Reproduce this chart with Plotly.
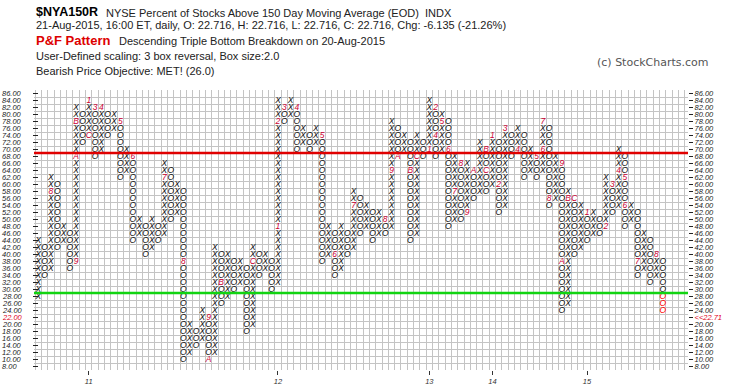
import plotly.graph_objects as go

# ---------------- data ----------------
col_kind = ("XOXOXOXOXO" "XOXOXOXOXO" "XOXOXOXOXO" "XOXOXOXOXO" "XOXOXOXOXO"
            "XOXOXOXOXO" "XOXOXOXOXO" "XOXOXOXOXO" "XOXOXOXOXO" "XOXOXOXOXO")

col_low = [28, 34, 36, 42, 44, 36, 38, 72, 74, 68,
           70, 74, 76, 62, 64, 44, 46, 40, 42, 44,
           46, 50, 52, 10, 12, 14, 16, 10, 12, 26,
           28, 30, 32, 18, 20, 34, 36, 30, 32, 78,
           80, 70, 72, 70, 72, 38, 40, 34, 36, 40,
           42, 46, 48, 44, 46, 46, 48, 68, 70, 44,
           46, 68, 70, 68, 70, 48, 50, 50, 52, 56,
           58, 58, 60, 52, 54, 68, 70, 62, 64, 62,
           64, 54, 56, 24, 26, 40, 42, 44, 46, 46,
           48, 52, 54, 48, 50, 34, 36, 32, 34, 24]

col_high = [44, 42, 62, 60, 48, 46, 82, 80, 84, 82,
            82, 80, 80, 78, 70, 68, 50, 48, 50, 48,
            66, 64, 60, 58, 20, 18, 24, 22, 42, 40,
            40, 38, 38, 36, 42, 40, 40, 38, 84, 82,
            84, 82, 76, 74, 76, 74, 48, 46, 48, 46,
            58, 56, 54, 52, 52, 50, 78, 76, 74, 72,
            74, 72, 84, 82, 80, 78, 68, 66, 66, 64,
            72, 70, 74, 72, 76, 74, 76, 74, 70, 68,
            78, 76, 68, 66, 58, 56, 54, 52, 52, 50,
            62, 60, 70, 68, 54, 52, 46, 44, 40, 38]

mark_col = [3, 7, 7, 7, 9, 9, 10, 11, 14, 16, 21, 24, 28, 28, 30, 35,
            39, 39, 40, 42, 46, 48, 51, 56, 57, 58, 60, 61,
            63, 64, 64, 65, 66, 67, 68, 69, 70, 72, 72,
            73, 74, 75, 77, 80, 81, 81, 82, 84, 84, 85, 86,
            88, 91, 92, 93, 94, 94, 96, 99]
mark_val = [58, 38, 68, 78, 74, 84, 82, 82, 78, 68, 62, 38, 22, 10, 32, 38,
            48, 78, 82, 82, 74, 40, 54, 50, 64, 68, 64, 68,
            70, 82, 74, 78, 70, 58, 66, 52, 64, 70, 64,
            74, 60, 76, 70, 68, 70, 78, 56, 66, 38, 56, 56,
            52, 48, 60, 64, 62, 54, 38, 40]
mark_txt = ["8", "9", "A", "B", "C", "1", "3", "4", "5", "6", "7", "8", "9", "A", "B", "C",
            "1", "2", "3", "4", "5", "6", "7", "8", "9", "A", "B", "C",
            "1", "2", "4", "5", "6", "7", "8", "9", "A", "B", "C",
            "1", "2", "3", "4", "5", "6", "7", "8", "9", "A", "B", "C",
            "1", "2", "3", "4", "5", "6", "7", "8"]

recent_col = 100
recent_boxes = [28, 26, 24]

year_cols = [9, 39, 63, 73, 88]
year_labels = ["11", "12", "13", "14", "15"]

price_levels = list(range(8, 88, 2))
last_price_label = "<<22.71"
high_line = 68
low_line = 28

# ---------------- geometry helpers ----------------
PL, PR, PT, PB = 34, 688, 90, 370
W, H = 745, 391


def px(xp):
    return (xp - PL) / (PR - PL)


def py(yp):
    return (PB - yp) / (PB - PT)


marks = {(c, v): t for c, v, t in zip(mark_col, mark_val, mark_txt)}
recent = {(recent_col, v) for v in recent_boxes}

xs_x, ys_x, xs_o, ys_o, xs_r, ys_r = [], [], [], [], [], []
for i, kind in enumerate(col_kind):
    c = i + 1
    for v in range(col_low[i], col_high[i] + 1, 2):
        if (c, v) in marks:
            continue
        if (c, v) in recent:
            xs_r.append(c)
            ys_r.append(v)
        elif kind == "X":
            xs_x.append(c)
            ys_x.append(v)
        else:
            xs_o.append(c)
            ys_o.append(v)

CHAR_FONT = "Liberation Sans"
csize = 8.5

fig = go.Figure()
fig.add_trace(go.Scatter(x=xs_x, y=ys_x, mode="text", text=["X"] * len(xs_x),
                         textfont=dict(family=CHAR_FONT, size=csize, color="#111111", style="italic"),
                         hoverinfo="skip"))
fig.add_trace(go.Scatter(x=xs_o, y=ys_o, mode="text", text=["O"] * len(xs_o),
                         textfont=dict(family=CHAR_FONT, size=csize, color="#111111", style="italic"),
                         hoverinfo="skip"))
fig.add_trace(go.Scatter(x=mark_col, y=mark_val, mode="text", text=mark_txt,
                         textfont=dict(family=CHAR_FONT, size=csize, color="#cc0033", style="italic"),
                         hoverinfo="skip"))
fig.add_trace(go.Scatter(x=xs_r, y=ys_r, mode="text", text=["O"] * len(xs_r),
                         textfont=dict(family=CHAR_FONT, size=csize, color="#ff0000", style="italic"),
                         hoverinfo="skip"))

# right-side axis labels
right_text = []
for v in price_levels:
    if v == 22:
        right_text.append('<span style="color:#e0001b">' + last_price_label.replace("<", "&lt;") + "</span>")
    else:
        right_text.append(f"{v:.2f}")

shapes = []
annotations = []

# left labels (left aligned) and ticks
for v in price_levels:
    color = "#e0001b" if v == 22 else "#222222"
    annotations.append(dict(xref="paper", yref="y", x=px(0), y=v, xanchor="left", yanchor="middle",
                            text=f"{v:.2f}", showarrow=False,
                            font=dict(family=CHAR_FONT, size=7.5, color=color, style="italic")))
    shapes.append(dict(type="line", xref="paper", yref="y", x0=px(33), x1=px(38), y0=v, y1=v,
                       line=dict(color="#222222", width=1)))

# support / resistance lines
shapes.append(dict(type="line", xref="paper", yref="y", x0=0, x1=1, y0=high_line + 1, y1=high_line + 1,
                   line=dict(color="#e00000", width=2.5)))
shapes.append(dict(type="line", xref="paper", yref="y", x0=0, x1=1, y0=low_line + 1, y1=low_line + 1,
                   line=dict(color="#11d411", width=2.5)))

TF = "Liberation Sans"


def ann(xp, yp, text, size=11, color="#222222", family=TF):
    annotations.append(dict(xref="paper", yref="paper", x=px(xp), y=py(yp), xanchor="left", yanchor="middle",
                            text=text, showarrow=False, font=dict(family=family, size=size, color=color)))


ann(34, 12, "<b>$NYA150R</b>", size=12.5, color="#000000")
ann(104, 13, "NYSE Percent of Stocks Above 150 Day Moving Average (EOD)  INDX", size=11)
ann(34, 25, "21-Aug-2015, 16:00 ET, daily, O: 22.716, H: 22.716, L: 22.716, C: 22.716, Chg: -6.135 (-21.26%)", size=11)
ann(34, 41, "<b>P&amp;F Pattern</b>", size=13, color="#dd0000")
ann(117, 41, "Descending Triple Bottom Breakdown on 20-Aug-2015", size=11)
ann(34, 56, "User-Defined scaling: 3 box reversal, Box size:2.0", size=11)
ann(34, 71, "Bearish Price Objective: MET! (26.0)", size=11)
ann(595, 63, "(c) StockCharts.com", size=11, color="#555555", family="DejaVu Sans")

grid_color = "#c4c4c4"

fig.update_layout(
    width=W, height=H,
    margin=dict(l=PL, r=W - PR, t=PT, b=H - PB, pad=0, autoexpand=False),
    paper_bgcolor="white", plot_bgcolor="white",
    showlegend=False,
    shapes=shapes,
    annotations=annotations,
    xaxis=dict(range=[0.318, 104.01], tickmode="array", tickvals=year_cols, ticktext=year_labels,
               ticks="outside", ticklen=4, tickcolor="#333333",
               tickfont=dict(family=CHAR_FONT, size=7.5, color="#333333", style="italic"),
               showgrid=False, zeroline=False, showline=False, fixedrange=True, automargin=False,
               minor=dict(tickmode="linear", tick0=0.5, dtick=1, showgrid=True,
                          gridcolor=grid_color, gridwidth=1, ticks="")),
    yaxis=dict(range=[7, 87], side="right", tickmode="array", tickvals=price_levels, ticktext=right_text,
               ticks="outside", ticklen=4, tickcolor="#222222",
               tickfont=dict(family=CHAR_FONT, size=7.5, color="#222222", style="italic"),
               showgrid=False, zeroline=False, showline=False, fixedrange=True, automargin=False,
               minor=dict(tickmode="linear", tick0=1, dtick=2, showgrid=True,
                          gridcolor=grid_color, gridwidth=1, ticks="")),
)

fig.write_html("out.html", config={"displayModeBar": False},
               post_script="document.body.style.margin='0';document.body.style.padding='0';"
                           "document.documentElement.style.overflow='hidden';")
